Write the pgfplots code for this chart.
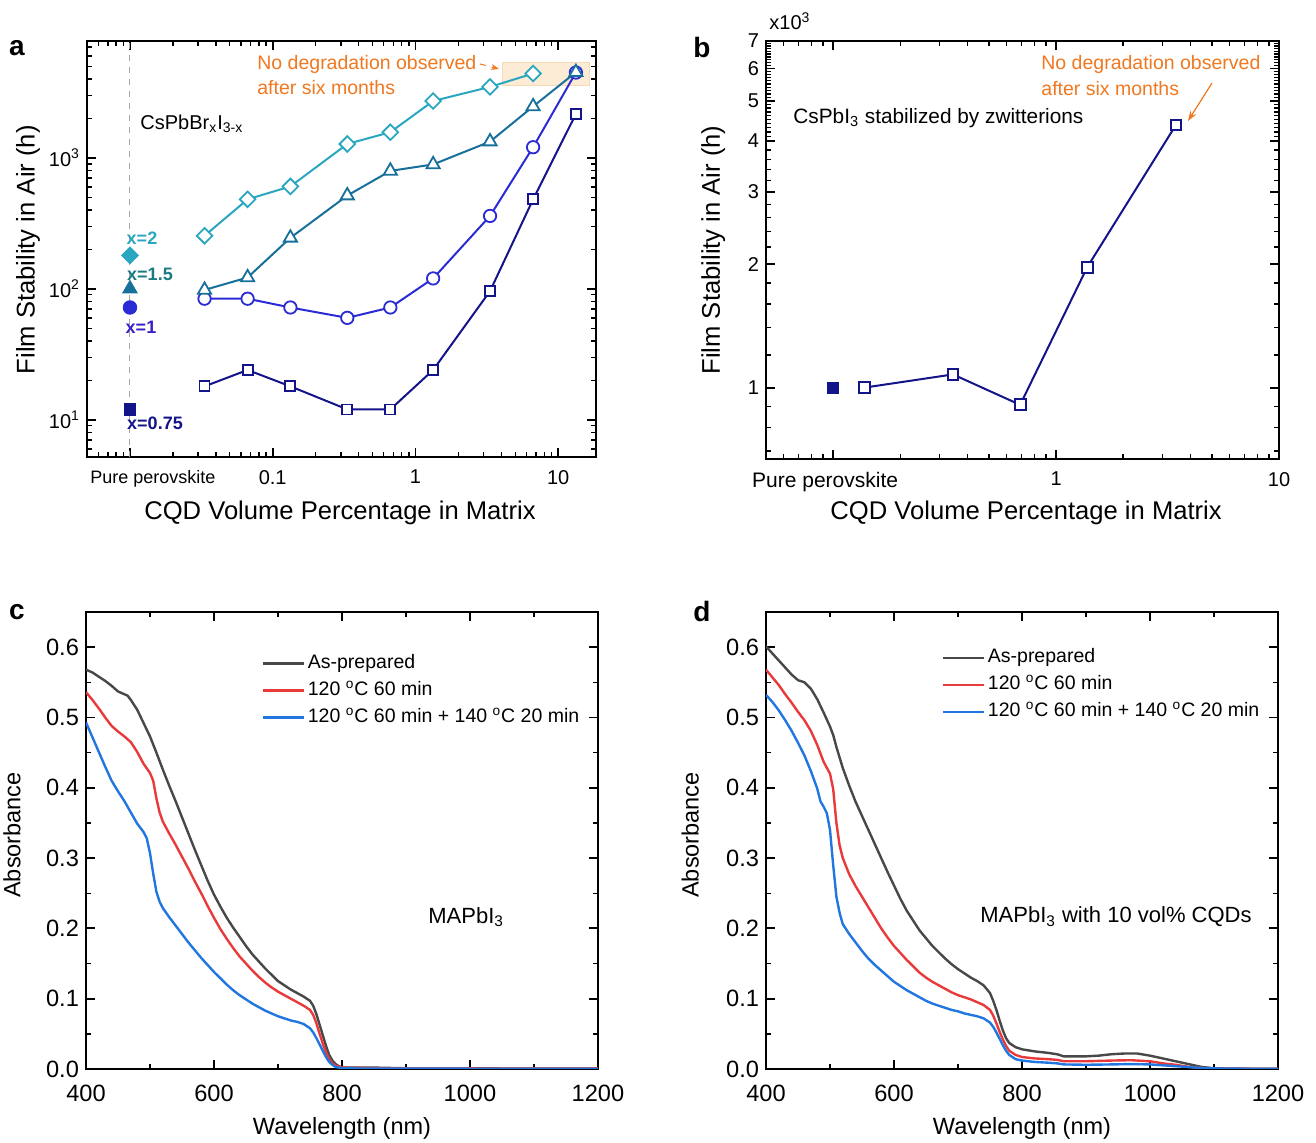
\documentclass[border=0pt]{standalone}
\usepackage{fontspec}
\setmainfont{Liberation Sans}
\usepackage{pgfplots}
\pgfplotsset{compat=1.18}
\usetikzlibrary{arrows.meta}

\definecolor{cyanA}{HTML}{2BA6C1}
\definecolor{tealA}{HTML}{17709B}
\definecolor{tealL}{HTML}{1B7A82}
\definecolor{blueA}{HTML}{2B2BD6}
\definecolor{blueL}{HTML}{3A1FC9}
\definecolor{navyA}{HTML}{14148A}
\definecolor{orangeT}{HTML}{F07820}
\definecolor{boxfill}{HTML}{FCEBD5}
\definecolor{boxdraw}{HTML}{F6D9B5}
\definecolor{lblack}{HTML}{484848}
\definecolor{lred}{HTML}{E83A3A}
\definecolor{lblue}{HTML}{2176E0}

\pgfplotsset{
  panel/.style={
    scale only axis, anchor=south west,
    axis line style={line width=1pt},
    tick align=inside,
    major tick length=4.5pt, minor tick length=2.5pt,
    every major tick/.append style={line width=0.9pt, black},
    every minor tick/.append style={line width=0.7pt, black},
    tick label style={font=\fontsize{10}{12}\selectfont},
    xticklabel style={yshift=-3pt},
    label style={font=\fontsize{12.8}{14}\selectfont},
    /pgf/number format/assume math mode=true,
  },
  absp/.style={
    panel,
    width=256pt, height=228.5pt,
    xmin=400, xmax=1200, ymin=0, ymax=0.65,
    xtick={400,600,800,1000,1200}, xticklabels={400,600,800,1000,1200},
    ytick={0,0.1,0.2,0.3,0.4,0.5,0.6}, yticklabels={0.0,0.1,0.2,0.3,0.4,0.5,0.6},
    minor x tick num=1, minor y tick num=1,
    tick label style={font=\fontsize{11.8}{13}\selectfont},
    xticklabel style={yshift=-1.5pt},
    label style={font=\fontsize{11.75}{13}\selectfont},
    xlabel={Wavelength (nm)}, ylabel={Absorbance},
    xlabel style={at={(axis description cs:0.5,-0.131)}, anchor=center},
    legend cell align=left,
    legend image code/.code={\draw[#1] (0pt,0pt) -- (20.5pt,0pt);},
  },
}

\begin{document}
\begin{tikzpicture}
\path[use as bounding box] (0,0) rectangle (658pt,571.5pt);

% ---------------- panel a ----------------
\begin{axis}[panel, at={(43.5pt,343pt)}, width=254.5pt, height=208pt,
  xmode=log, ymode=log, xmin=0.005, xmax=18.4, ymin=5.2, ymax=7800,
  xtick={0.01,0.1,1,10},
  xticklabels={{\fontsize{9}{10}\selectfont\hspace*{23pt}Pure perovskite},0.1,1,10},
  minor xtick={0.006,0.007,0.008,0.009,0.02,0.03,0.04,0.05,0.06,0.07,0.08,0.09,0.2,0.3,0.4,0.5,0.6,0.7,0.8,0.9,2,3,4,5,6,7,8,9},
  ytick={10,100,1000},
  yticklabels={10\textsuperscript{1},10\textsuperscript{2},10\textsuperscript{3}},
  minor ytick={6,7,8,9,20,30,40,50,60,70,80,90,200,300,400,500,600,700,800,900,2000,3000,4000,5000,6000,7000},
  xlabel={CQD Volume Percentage in Matrix},
  ylabel={Film Stability in Air (h)},
  xlabel style={at={(axis description cs:0.497,-0.135)}, anchor=center},
  ylabel style={at={(axis description cs:-0.116,0.498)}, anchor=center},
]
\fill[boxfill, draw=boxdraw] (axis cs:4.05,3560) rectangle (axis cs:16.5,5310);
\draw[gray!70, dashed, line width=0.5pt] (axis cs:0.01,5.2) -- (axis cs:0.01,7800);
% x = 0.75
\addplot[navyA, line width=1pt, mark=square*, mark size=2.5pt, mark options={fill=white, line width=0.9pt}]
 coordinates {(0.0333,18.0)(0.0667,24.0)(0.133,18.0)(0.333,12.0)(0.667,12.0)(1.33,24.0)(3.33,96)(6.67,482)(13.3,2160)};
% x = 1
\addplot[blueA, line width=1pt, mark=*, mark size=3.1pt, mark options={fill=white, line width=0.9pt}]
 coordinates {(0.0333,84)(0.0667,84)(0.133,72)(0.333,60)(0.667,72)(1.33,120)(3.33,360)(6.67,1205)(13.3,4480)};
% x = 2
\addplot[cyanA, line width=1pt, mark=square*, mark size=2.75pt, mark options={rotate=45, fill=white, line width=0.9pt}]
 coordinates {(0.0333,254)(0.0667,482)(0.133,605)(0.333,1275)(0.667,1570)(1.33,2715)(3.33,3480)(6.67,4400)};
% x = 1.5
\addplot[tealA, line width=1pt, mark=triangle*, mark size=3.8pt, mark options={fill=white, line width=0.9pt}]
 coordinates {(0.0333,98)(0.0667,122)(0.133,245)(0.333,515)(0.667,795)(1.33,890)(3.33,1330)(6.67,2466)(13.3,4500)};
% pure perovskite points
\addplot[only marks, cyanA, mark=square*, mark size=3pt, mark options={rotate=45, fill=cyanA}] coordinates {(0.01,180)};
\addplot[only marks, tealA, mark=triangle*, mark size=4.2pt, mark options={fill=tealA}] coordinates {(0.01,100)};
\addplot[only marks, blueA, mark=*, mark size=3.4pt, mark options={fill=blueA}] coordinates {(0.01,72)};
\addplot[only marks, navyA, mark=square*, mark size=2.9pt, mark options={fill=navyA}] coordinates {(0.01,12)};
\end{axis}

% ---------------- panel b ----------------
\begin{axis}[panel, at={(383pt,342pt)}, width=256.5pt, height=209pt,
  xmode=log, ymode=log, xmin=0.05, xmax=10, ymin=0.67, ymax=7,
  xtick={0.1,1,10},
  xticklabels={{\fontsize{10.5}{12}\selectfont Pure perovskite\hspace*{8pt}},1,10},
  minor xtick={0.06,0.07,0.08,0.09,0.2,0.3,0.4,0.5,0.6,0.7,0.8,0.9,2,3,4,5,6,7,8,9},
  ytick={1,2,3,4,5,6,7}, yticklabels={1,2,3,4,5,6,7},
  minor ytick={0.7,0.8,0.9,1.2,1.4,1.6,1.8,2.2,2.4,2.6,2.8,3.2,3.4,3.6,3.8,4.1,4.2,4.3,4.4,4.5,4.6,4.7,4.8,4.9,5.1,5.2,5.3,5.4,5.5,5.6,5.7,5.8,5.9,6.1,6.2,6.3,6.4,6.5,6.6,6.7,6.8,6.9},
  xlabel={CQD Volume Percentage in Matrix},
  ylabel={Film Stability in Air (h)},
  xlabel style={at={(axis description cs:0.507,-0.129)}, anchor=center},
  ylabel style={at={(axis description cs:-0.103,0.5)}, anchor=center},
]
\addplot[navyA, line width=1pt, mark=square*, mark size=2.7pt, mark options={fill=white, line width=1pt}]
 coordinates {(0.138,1.0)(0.345,1.077)(0.69,0.908)(1.38,1.967)(3.45,4.37)};
\addplot[only marks, navyA, mark=square*, mark size=2.8pt, mark options={fill=navyA}] coordinates {(0.1,1.0)};
\end{axis}

% ---------------- panel c ----------------
\begin{axis}[absp, at={(43pt,37pt)},
  ylabel style={at={(axis description cs:-0.1445,0.512)}, anchor=center},
  legend style={at={(rel axis cs:0.342,0.914)}, anchor=north west, draw=none, fill=none,
    font=\fontsize{9.75}{11}\selectfont, row sep=1.5pt, inner sep=0pt,
    nodes={inner sep=1.5pt, text height=7pt, text depth=2pt}},
]
\addplot[lblack, line width=1.2pt] coordinates {(400,0.568)(410,0.564)(420,0.558)(430,0.552)(440,0.545)(450,0.537)(460,0.533)(465,0.531)(470,0.525)(480,0.511)(490,0.492)(500,0.473)(510,0.450)(520,0.426)(530,0.403)(540,0.381)(550,0.358)(560,0.335)(570,0.312)(580,0.290)(590,0.268)(600,0.248)(610,0.231)(620,0.215)(630,0.201)(640,0.188)(650,0.175)(660,0.163)(670,0.153)(680,0.143)(690,0.134)(700,0.125)(710,0.119)(720,0.113)(730,0.108)(740,0.103)(750,0.097)(755,0.090)(760,0.078)(765,0.063)(770,0.048)(775,0.033)(780,0.020)(785,0.012)(790,0.007)(795,0.004)(800,0.002)(850,0.002)(900,0.001)(1000,0.001)(1100,0.0005)(1200,0.0005)};
\addlegendentry{As-prepared}
\addplot[lred, line width=1.2pt] coordinates {(400,0.536)(410,0.525)(420,0.513)(430,0.500)(440,0.488)(450,0.480)(460,0.473)(470,0.465)(480,0.451)(490,0.434)(500,0.421)(505,0.410)(510,0.385)(515,0.365)(520,0.352)(530,0.335)(540,0.319)(550,0.302)(560,0.285)(570,0.267)(580,0.250)(590,0.232)(600,0.215)(610,0.199)(620,0.185)(630,0.172)(640,0.160)(650,0.150)(660,0.140)(670,0.131)(680,0.123)(690,0.116)(700,0.110)(710,0.105)(720,0.100)(730,0.095)(740,0.090)(750,0.084)(755,0.077)(760,0.065)(765,0.050)(770,0.036)(775,0.024)(780,0.014)(785,0.008)(790,0.005)(800,0.002)(850,0.001)(1200,0.0005)};
\addlegendentry{120 \textsuperscript{o}C 60 min}
\addplot[lblue, line width=1.2pt] coordinates {(400,0.493)(410,0.472)(420,0.451)(430,0.430)(440,0.410)(450,0.395)(460,0.381)(470,0.365)(480,0.349)(490,0.337)(495,0.328)(500,0.307)(505,0.278)(510,0.252)(515,0.238)(520,0.229)(530,0.216)(540,0.204)(550,0.192)(560,0.180)(570,0.169)(580,0.158)(590,0.148)(600,0.138)(610,0.129)(620,0.120)(630,0.112)(640,0.105)(650,0.099)(660,0.093)(670,0.088)(680,0.083)(690,0.079)(700,0.075)(710,0.072)(720,0.069)(730,0.067)(740,0.064)(750,0.058)(755,0.052)(760,0.044)(765,0.035)(770,0.026)(775,0.017)(780,0.010)(785,0.006)(790,0.003)(800,0.001)(850,0.0005)(1200,0.0003)};
\addlegendentry{120 \textsuperscript{o}C 60 min + 140 \textsuperscript{o}C 20 min}
\end{axis}

% ---------------- panel d ----------------
\begin{axis}[absp, at={(383pt,37pt)},
  ylabel style={at={(axis description cs:-0.148,0.512)}, anchor=center},
  legend style={at={(rel axis cs:0.342,0.927)}, anchor=north west, draw=none, fill=none,
    font=\fontsize{9.75}{11}\selectfont, row sep=1.5pt, inner sep=0pt,
    nodes={inner sep=1.5pt, text height=7pt, text depth=2pt}},
]
\addplot[lblack, line width=1.2pt] coordinates {(400,0.601)(410,0.591)(420,0.581)(430,0.571)(440,0.561)(450,0.553)(460,0.550)(470,0.541)(480,0.526)(490,0.507)(500,0.487)(505,0.475)(510,0.458)(520,0.428)(530,0.403)(540,0.380)(550,0.360)(560,0.340)(570,0.320)(580,0.300)(590,0.280)(600,0.261)(610,0.242)(620,0.225)(630,0.211)(640,0.197)(650,0.186)(660,0.175)(670,0.166)(680,0.157)(690,0.149)(700,0.142)(710,0.136)(720,0.130)(730,0.125)(740,0.119)(750,0.108)(755,0.097)(760,0.084)(765,0.069)(770,0.055)(775,0.044)(780,0.037)(790,0.031)(800,0.028)(820,0.025)(840,0.023)(855,0.021)(865,0.018)(880,0.018)(900,0.018)(920,0.019)(940,0.021)(960,0.022)(980,0.022)(1000,0.019)(1020,0.015)(1040,0.011)(1060,0.007)(1080,0.003)(1100,0.001)(1150,0.0003)(1200,0.0002)};
\addlegendentry{As-prepared}
\addplot[lred, line width=1.2pt] coordinates {(400,0.568)(410,0.557)(420,0.546)(430,0.533)(440,0.521)(450,0.508)(460,0.496)(470,0.481)(480,0.461)(490,0.437)(500,0.420)(505,0.398)(510,0.350)(515,0.318)(520,0.300)(530,0.277)(540,0.260)(550,0.245)(560,0.230)(570,0.215)(580,0.200)(590,0.187)(600,0.175)(610,0.165)(620,0.155)(630,0.146)(640,0.137)(650,0.130)(660,0.124)(670,0.119)(680,0.114)(690,0.109)(700,0.105)(710,0.102)(720,0.099)(730,0.095)(740,0.091)(750,0.084)(755,0.076)(760,0.065)(765,0.053)(770,0.042)(775,0.033)(780,0.026)(790,0.020)(800,0.017)(820,0.015)(840,0.014)(855,0.013)(865,0.011)(900,0.011)(940,0.012)(970,0.0125)(1000,0.011)(1020,0.008)(1040,0.006)(1060,0.003)(1080,0.0015)(1100,0.0007)(1200,0.0002)};
\addlegendentry{120 \textsuperscript{o}C 60 min}
\addplot[lblue, line width=1.2pt] coordinates {(400,0.532)(410,0.522)(420,0.510)(430,0.496)(440,0.481)(450,0.464)(460,0.446)(470,0.424)(480,0.399)(485,0.381)(490,0.373)(495,0.364)(500,0.340)(505,0.290)(510,0.245)(515,0.222)(520,0.206)(530,0.192)(540,0.180)(550,0.168)(560,0.157)(570,0.148)(580,0.140)(590,0.132)(600,0.124)(610,0.118)(620,0.112)(630,0.107)(640,0.102)(650,0.097)(660,0.093)(670,0.090)(680,0.087)(690,0.084)(700,0.082)(710,0.079)(720,0.077)(730,0.075)(740,0.072)(750,0.066)(755,0.060)(760,0.052)(765,0.043)(770,0.034)(775,0.026)(780,0.020)(790,0.014)(800,0.012)(820,0.010)(840,0.009)(855,0.008)(865,0.0065)(900,0.006)(940,0.0065)(970,0.007)(1000,0.0065)(1040,0.004)(1080,0.0015)(1120,0.0005)(1200,0.0002)};
\addlegendentry{120 \textsuperscript{o}C 60 min + 140 \textsuperscript{o}C 20 min}
\end{axis}

% ---------------- annotations ----------------
\begin{scope}[font=\fontsize{14}{16}\selectfont\bfseries]
\node at (8.5pt,547.5pt) {a};
\node at (351pt,547.5pt) {b};
\node at (8.5pt,265.5pt) {c};
\node at (351pt,265.5pt) {d};
\end{scope}

% panel a texts
\node[anchor=west, inner sep=0pt, font=\fontsize{10}{12}\selectfont] at (70pt,509.5pt) {CsPbBr\textsubscript{x}I\textsubscript{3-x}};
\node[anchor=west, inner sep=0pt, orangeT, font=\fontsize{9.75}{11}\selectfont] at (128.5pt,539.5pt) {No degradation observed};
\node[anchor=west, inner sep=0pt, orangeT, font=\fontsize{9.75}{11}\selectfont] at (128.5pt,527.5pt) {after six months};
\draw[orangeT, dashed, line width=0.5pt, -{Stealth[length=4pt,width=3pt]}] (240pt,539.5pt) -- (249.5pt,537pt);
\begin{scope}[font=\fontsize{9}{10}\selectfont\bfseries]
\node[cyanA] at (71pt,452.5pt) {x=2};
\node[tealL] at (75pt,434.5pt) {x=1.5};
\node[blueL] at (70.5pt,408pt) {x=1};
\node[navyA] at (77.5pt,360pt) {x=0.75};
\end{scope}

% panel b texts
\node[anchor=west, inner sep=0pt, font=\fontsize{10}{12}\selectfont] at (384.5pt,561pt) {x10\textsuperscript{3}};
\node[anchor=west, inner sep=0pt, font=\fontsize{10.4}{12}\selectfont] at (396.5pt,512.5pt) {CsPbI\textsubscript{3} stabilized by zwitterions};
\node[anchor=west, inner sep=0pt, orangeT, font=\fontsize{9.75}{11}\selectfont] at (520.5pt,539.5pt) {No degradation observed};
\node[anchor=west, inner sep=0pt, orangeT, font=\fontsize{9.75}{11}\selectfont] at (520.5pt,527pt) {after six months};
\draw[orangeT, line width=0.6pt, -{Stealth[length=5pt,width=3.5pt]}] (606pt,530pt) -- (594pt,511pt);

% panel c, d texts
\node[anchor=west, inner sep=0pt, font=\fontsize{11}{13}\selectfont] at (214pt,113pt) {MAPbI\textsubscript{3}};
\node[anchor=west, inner sep=0pt, font=\fontsize{11}{13}\selectfont] at (490pt,113pt) {MAPbI\textsubscript{3} with 10 vol\% CQDs};

\end{tikzpicture}
\end{document}
